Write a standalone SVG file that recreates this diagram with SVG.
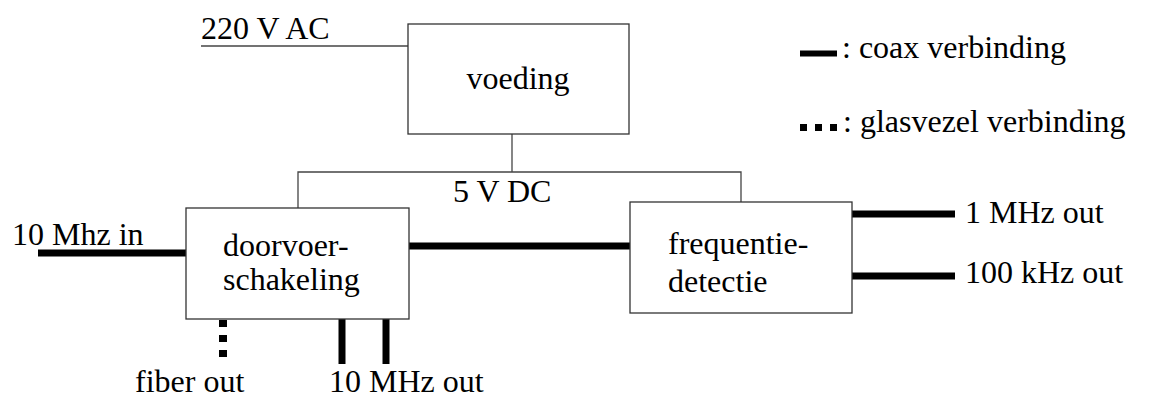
<svg xmlns="http://www.w3.org/2000/svg" width="1151" height="398" viewBox="0 0 1151 398">
  <style>
    text { font-family: 'Liberation Serif', 'DejaVu Serif', serif; font-size: 32px; fill: #000; }
    .box { fill: #fff; stroke: #333; stroke-width: 1.3; }
    .wire { fill: none; stroke: #444; stroke-width: 1.3; }
    .coax { fill: none; stroke: #000; stroke-width: 7; }
    .fiber { fill: none; stroke: #000; stroke-width: 8; stroke-dasharray: 7 8; }
  </style>

  <!-- connectors -->
  <g id="connectors">
    <!-- mains feed and DC bus -->
    <polyline class="wire" points="201,46 408,46"/>
    <polyline class="wire" points="512,134 512,172"/>
    <polyline class="wire" points="298,208 298,172 741,172 741,202"/>
    <!-- coax links -->
    <line class="coax" x1="38" y1="253" x2="186" y2="253"/>
    <line class="coax" x1="409" y1="246" x2="630" y2="246"/>
    <line class="coax" x1="852" y1="214" x2="955" y2="214"/>
    <line class="coax" x1="852" y1="276" x2="955" y2="276"/>
    <line class="coax" x1="342" y1="319" x2="342" y2="364"/>
    <line class="coax" x1="386" y1="319" x2="386" y2="364"/>
    <!-- fiber link -->
    <line class="fiber" x1="223" y1="320" x2="223" y2="358"/>
  </g>

  <!-- power supply -->
  <g id="voeding">
    <rect class="box" x="408" y="24" width="221" height="110"/>
    <text x="518" y="89" text-anchor="middle" font-family="Liberation Serif">voeding</text>
  </g>

  <!-- pass-through switch -->
  <g id="doorvoerschakeling">
    <rect class="box" x="186" y="208" width="223" height="111"/>
    <text x="223" y="256">doorvoer-</text>
    <text x="223" y="290">schakeling</text>
  </g>

  <!-- frequency detection -->
  <g id="frequentiedetectie">
    <rect class="box" x="630" y="202" width="222" height="111"/>
    <text x="668" y="254">frequentie-</text>
    <text x="668" y="292">detectie</text>
  </g>

  <!-- port labels -->
  <g id="labels">
    <text x="201" y="39">220 V AC</text>
    <text x="453" y="202">5 V DC</text>
    <text x="12" y="245">10 Mhz in</text>
    <text x="135" y="392">fiber out</text>
    <text x="329" y="392">10 MHz out</text>
    <text x="965" y="223">1 MHz out</text>
    <text x="965" y="283">100 kHz out</text>
  </g>

  <!-- legend -->
  <g id="legend">
    <line x1="800" y1="53.5" x2="837" y2="53.5" stroke="#000" stroke-width="6"/>
    <text x="842" y="58">: coax verbinding</text>
    <line x1="800" y1="127.5" x2="837" y2="127.5" stroke="#000" stroke-width="7" stroke-dasharray="7 8"/>
    <text x="843" y="132">: glasvezel verbinding</text>
  </g>
</svg>
